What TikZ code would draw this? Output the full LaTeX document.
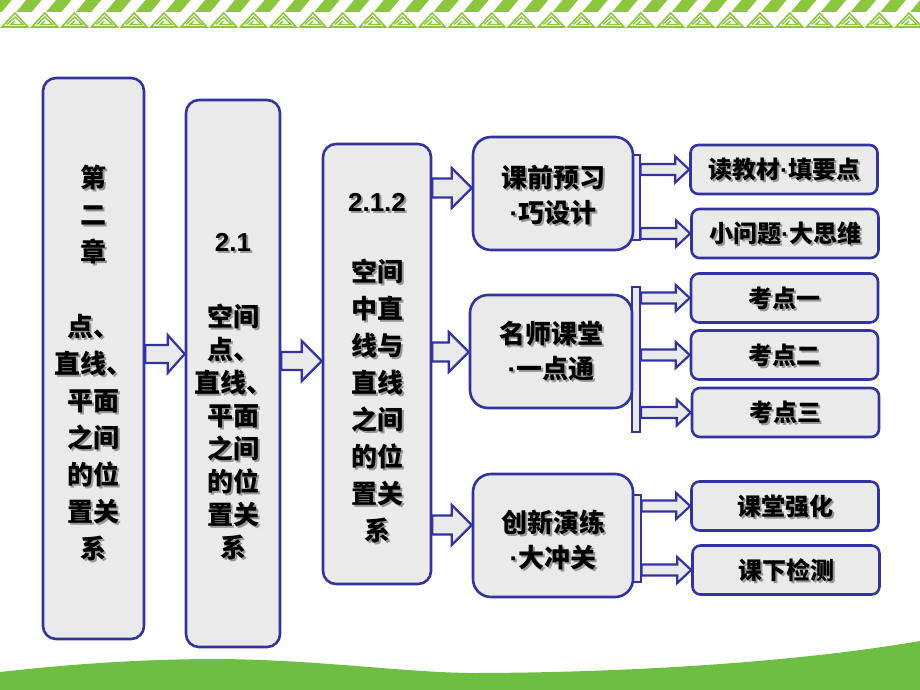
\documentclass[tikz,border=0pt]{standalone}
\usepackage{fontspec}
\setmainfont{Noto Sans CJK SC}
\newfontfamily\latin{Liberation Sans}
\usetikzlibrary{calc}
\definecolor{frame}{RGB}{51,51,160}
\definecolor{paper}{RGB}{234,234,234}
\definecolor{leaf}{RGB}{111,190,68}
\definecolor{leaftop}{RGB}{140,198,63}
\definecolor{shade}{RGB}{150,150,150}
\newcommand\middot{{\latin ·}}

\tikzset{
  box/.style={draw=frame, fill=paper, line width=1.3pt, rounded corners=6.5pt, inner sep=0pt},
  midbox/.style={box, rounded corners=9pt},
  smallbox/.style={box, rounded corners=4pt, minimum width=93.5pt, minimum height=24.5pt},
  bar/.style={draw=frame, fill=paper, line width=1pt, minimum width=4pt, inner sep=0pt},
  arrowbody/.style={draw=frame, fill=paper, line width=1.1pt, line join=miter},
  bigtxt/.style={font=\bfseries\fontsize{13pt}{18.5pt}\selectfont, align=center, inner sep=0pt},
  smalltxt/.style={font=\bfseries\fontsize{12pt}{14pt}\selectfont, inner sep=0pt},
}

\begin{document}
\begin{tikzpicture}[x=0.5pt, y=-0.5pt]

  \newcommand\blockarrow[5]{%
    \draw[arrowbody] let \p1=(#1), \p2=(#2) in
      (\x1,\y1+#3) -- (\x2-#5,\y1+#3) -- (\x2-#5,\y1+#4) -- (\x2,\y1)
      -- (\x2-#5,\y1-#4) -- (\x2-#5,\y1-#3) -- (\x1,\y1-#3) -- cycle;}
  \newcommand\boxlabel[4]{%
    \node[#2, text=shade, xshift=1pt, yshift=-1pt] (#1-shade) at (#3) {#4};
    \node[#2] (#1-text) at (#3) {#4};}

  \useasboundingbox (0,0) rectangle (920,690);

  %% top border
  \fill[leaftop] (0,0) rectangle (920,12);
  \foreach \i in {0,...,30} {
    \pgfmathsetmacro\xo{\i*29.8}
    \fill[white] (\xo+12,0) -- (\xo+26,0) -- (\xo+16,12) -- (\xo+2,12) -- cycle;
    \draw[leaftop, line width=0.8pt] (\xo+2,27) -- (\xo+15,13) -- (\xo+28,27) -- cycle;
    \draw[leaftop, line width=0.7pt] (\xo+7,24.5) -- (\xo+15,17) -- (\xo+23,24.5) -- (\xo+11,24.5) -- (\xo+15,21);
  }

  %% bottom wave
  \fill[leaf] (0,672) .. controls (80,663) and (150,659) .. (220,659)
    .. controls (320,660) and (400,672) .. (470,673)
    .. controls (600,673) and (780,665) .. (920,641) -- (920,690) -- (0,690) -- cycle;

  %% bars behind the middle boxes
  \node[bar, minimum height=42.5pt] (prebar) at (635.5,197.5) {};
  \node[bar, minimum height=72.5pt] (midbar) at (636,359.5) {};
  \node[bar, minimum height=43.5pt] (postbar) at (636.5,538.5) {};

  %% boxes
  \node[box, minimum width=50.5pt, minimum height=280.5pt] (chap) at (93.5,358.5) {};
  \node[box, minimum width=47pt, minimum height=273.5pt] (sec) at (233,373.5) {};
  \node[box, minimum width=54pt, minimum height=220pt] (sub) at (377,364) {};
  \node[midbox, minimum width=80pt, minimum height=56.5pt] (pre) at (553,193.5) {};
  \node[midbox, minimum width=81pt, minimum height=56.5pt] (mid) at (551,351.5) {};
  \node[midbox, minimum width=80pt, minimum height=61.5pt] (post) at (553,535.5) {};

  \node[smallbox] (read) at (784,169.5) {};
  \node[smallbox] (think) at (785,233.5) {};
  \node[smallbox] (kp1) at (784.5,298) {};
  \node[smallbox] (kp2) at (784.5,355) {};
  \node[smallbox] (kp3) at (785.5,412.5) {};
  \node[smallbox] (class) at (785,506) {};
  \node[smallbox] (test) at (786,570) {};

  %% arrows
  \blockarrow{chap.east |- 0,354}{sec.west}{4.5pt}{9.5pt}{8.5pt} %% chap->sec
  \blockarrow{sec.east |- 0,361}{sub.west}{4.5pt}{10pt}{10pt} %% sec->sub
  \blockarrow{sub.east |- 0,188}{pre.west}{4.75pt}{10pt}{10pt}
  \blockarrow{sub.east |- 0,352}{mid.west}{4.75pt}{10pt}{10pt}
  \blockarrow{sub.east |- 0,525}{post.west}{4.75pt}{10pt}{10pt}

  \blockarrow{prebar.east |- read.west}{read.west}{2.75pt}{6.5pt}{7pt}
  \blockarrow{prebar.east |- think.west}{think.west}{2.75pt}{6.5pt}{7pt}
  \blockarrow{midbar.east |- kp1.west}{kp1.west}{2.75pt}{6.5pt}{7pt}
  \blockarrow{midbar.east |- kp2.west}{kp2.west}{2.75pt}{6.5pt}{7pt}
  \blockarrow{midbar.east |- kp3.west}{kp3.west}{2.75pt}{6.5pt}{7pt}
  \blockarrow{postbar.east |- class.west}{class.west}{2.75pt}{6.5pt}{7pt}
  \blockarrow{postbar.east |- test.west}{test.west}{2.75pt}{6.5pt}{7pt}

  %% texts
  \boxlabel{chap}{bigtxt}{[yshift=-2pt]chap.center}{第\\二\\章\\[19pt]点、\\直线、\\平面\\之间\\的位\\置关\\系}
  \boxlabel{sec}{bigtxt, font=\bfseries\fontsize{13pt}{16.5pt}\selectfont}{[yshift=-11.5pt]sec.center}{{\latin 2.1}\\[21pt]空间\\点、\\直线、\\平面\\之间\\的位\\置关\\系}
  \boxlabel{sub}{bigtxt}{[yshift=-2pt]sub.center}{{\latin 2.1.2}\\[16.5pt]空间\\中直\\线与\\直线\\之间\\的位\\置关\\系}
  \boxlabel{pre}{bigtxt, font=\bfseries\fontsize{13pt}{17.5pt}\selectfont}{[yshift=-1pt]pre.center}{课前预习\\\middot 巧设计}
  \boxlabel{mid}{bigtxt, font=\bfseries\fontsize{13pt}{17.5pt}\selectfont}{mid.center}{名师课堂\\\middot 一点通}
  \boxlabel{post}{bigtxt, font=\bfseries\fontsize{13pt}{17.5pt}\selectfont}{[yshift=-2pt]post.center}{创新演练\\\middot 大冲关}

  \boxlabel{read}{smalltxt}{read.center}{读教材\middot 填要点}
  \boxlabel{think}{smalltxt}{think.center}{小问题\middot 大思维}
  \boxlabel{kp1}{smalltxt}{kp1.center}{考点一}
  \boxlabel{kp2}{smalltxt}{kp2.center}{考点二}
  \boxlabel{kp3}{smalltxt}{kp3.center}{考点三}
  \boxlabel{class}{smalltxt}{class.center}{课堂强化}
  \boxlabel{test}{smalltxt}{test.center}{课下检测}
\end{tikzpicture}
\end{document}
